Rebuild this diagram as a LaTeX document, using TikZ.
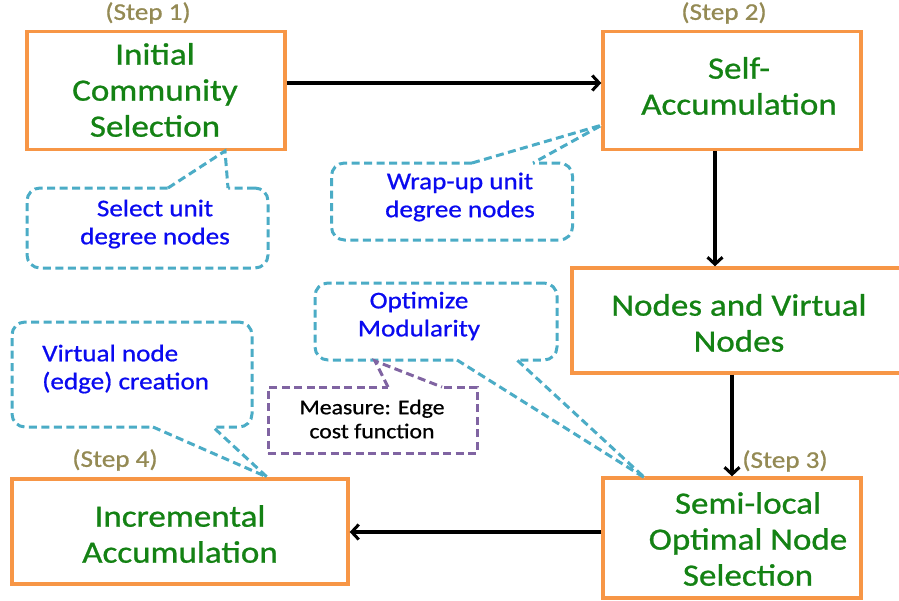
\documentclass[tikz,border=0pt]{standalone}
\usepackage{fontspec}
\setmainfont[FakeStretch=1.13,FakeBold=0.8]{Carlito}
\usetikzlibrary{arrows.meta,calc}
\definecolor{boxorange}{HTML}{F79646}
\definecolor{callcyan}{HTML}{4BACC6}
\definecolor{callpurple}{HTML}{8064A2}
\definecolor{steptxt}{HTML}{948A54}
\definecolor{greentxt}{RGB}{20,130,20}
\definecolor{bluetxt}{RGB}{10,10,240}
\tikzset{
  flowbox/.style={draw=boxorange, line width=3.4pt, inner sep=0pt, fill=white},
  bigtxt/.style={text=greentxt, align=center, inner sep=0pt, font=\fontsize{31}{36}\selectfont},
  steplbl/.style={text=steptxt, inner sep=0pt, font=\fontsize{24}{28}\selectfont},
  calltxt/.style={text=bluetxt, align=center, inner sep=0pt, font=\fontsize{24}{28}\selectfont},
  cdash/.style={draw=callcyan, line width=3pt, dash pattern=on 8pt off 4.5pt},
  callbox/.style={cdash, rounded corners=13pt, fill=white, inner sep=0pt},
  pdash/.style={draw=callpurple, line width=3pt, dash pattern=on 8pt off 4.5pt},
  arr/.style={line width=3.2pt, -{Straight Barb[length=7pt,width=15pt,line width=3pt]}}
}
\begin{document}
\begin{tikzpicture}[x=1pt,y=-1pt]
\useasboundingbox (0,0) rectangle (899,600);

% boxes
\node[flowbox, minimum width=258pt, minimum height=118pt] (b1) at (156,90.5) {};
\node[flowbox, minimum width=258pt, minimum height=118pt] (b2) at (732,90.5) {};
\node[flowbox, minimum width=335pt, minimum height=105pt] (b3) at (739.5,320.5) {};
\node[flowbox, minimum width=258pt, minimum height=120pt] (b4) at (732,538) {};
\node[flowbox, minimum width=336pt, minimum height=105pt] (b5) at (180,531.5) {};

\node[bigtxt] (t1) at (155,90) {Initial\\Community\\Selection};
\node[bigtxt] (t2) at (739,86) {Self-\\Accumulation};
\node[bigtxt] (t3) at (739,323) {Nodes and Virtual\\Nodes};
\node[bigtxt] (t4) at (748,539) {Semi-local\\Optimal Node\\Selection};
\node[bigtxt] (t5) at (180,534) {Incremental\\Accumulation};

\node[steplbl] (s1) at (148,13) {(Step 1)};
\node[steplbl] (s2) at (724,13) {(Step 2)};
\node[steplbl] (s3) at (785,461) {(Step 3)};
\node[steplbl] (s4) at (115,460) {(Step 4)};

% arrows
\coordinate (a1s) at (b1.east |- 0,83);
\coordinate (a1e) at (b2.west |- 0,83);
\coordinate (a2s) at (b2.south -| 715,0);
\coordinate (a2e) at (b3.north -| 715,0);
\coordinate (a3s) at (b3.south -| 732,0);
\coordinate (a3e) at (b4.north -| 732,0);
\coordinate (a4s) at (b4.west |- 0,532);
\coordinate (a4e) at (b5.east |- 0,532);
\draw[arr] (a1s) -- (a1e);
\draw[arr] (a2s) -- (a2e);
\draw[arr] (a3s) -- (a3e);
\draw[arr] (a4s) -- (a4e);

% callout 1
\node[callbox, minimum width=241pt, minimum height=80pt] (c1) at (147.5,228) {};
\node[calltxt] (c1t) at (155,224) {Select unit\\degree nodes};
\coordinate (c1a) at (168,188);
\coordinate (c1b) at (228,188);
\coordinate (c1p) at (225,151);
\fill[white] (c1a) -- (c1p) -- (c1b) -- ($(c1b)+(0,4)$) -- ($(c1a)+(0,4)$) -- cycle;
\draw[cdash] (c1a) -- (c1p) -- (c1b);

% callout 2
\node[callbox, minimum width=241pt, minimum height=77pt] (c2) at (452,201.5) {};
\node[calltxt] (c2t) at (460,197) {Wrap-up unit\\degree nodes};
\coordinate (c2a) at (472,163);
\coordinate (c2b) at (533,163);
\coordinate (c2p) at (602,125);
\fill[white] (c2a) -- (c2p) -- (c2b) -- ($(c2b)+(0,4)$) -- ($(c2a)+(0,4)$) -- cycle;
\draw[cdash] (c2a) -- (c2p) -- (c2b);

% callout 4
\node[callbox, minimum width=240pt, minimum height=105pt] (c4) at (132,374.5) {};
\node[calltxt, align=left, anchor=west] (c4t) at (42,369) {Virtual node\\(edge) creation};
\coordinate (c4a) at (153,427);
\coordinate (c4b) at (213,427);
\coordinate (c4p) at (267,477);
\fill[white] (c4a) -- (c4p) -- (c4b) -- ($(c4b)+(0,-4)$) -- ($(c4a)+(0,-4)$) -- cycle;
\draw[cdash] (c4a) -- (c4p) -- (c4b);

% callout 3
\node[callbox, minimum width=242pt, minimum height=77pt] (c3) at (436,321.5) {};
\node[calltxt] (c3t) at (419,316) {Optimize\\Modularity};
\coordinate (c3a) at (457,360);
\coordinate (c3b) at (517,360);
\coordinate (c3p) at (645,478);
\fill[white] (c3a) -- (c3p) -- (c3b) -- ($(c3b)+(0,-4)$) -- ($(c3a)+(0,-4)$) -- cycle;
\draw[cdash] (c3a) -- (c3p) -- (c3b);

% measure box
\node[pdash, fill=white, minimum width=209pt, minimum height=66pt, inner sep=0pt] (m) at (372.5,420) {};
\node[inner sep=0pt, align=center, font=\fontsize{21}{24}\selectfont] (mt) at (372,419) {Measure: Edge\\cost function};
\coordinate (ma) at (388,387);
\coordinate (mb) at (442,387);
\coordinate (mp) at (375,361);
\fill[white] (ma) -- (mp) -- (mb) -- ($(mb)+(0,4)$) -- ($(ma)+(0,4)$) -- cycle;
\draw[pdash] (ma) -- (mp) -- (mb);
\end{tikzpicture}
\end{document}
